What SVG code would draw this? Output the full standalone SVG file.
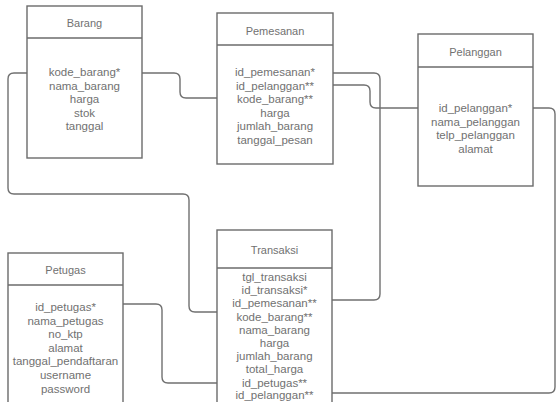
<svg xmlns="http://www.w3.org/2000/svg" width="557" height="402" viewBox="0 0 557 402">
<style>
.box{fill:#fff;stroke:#6b6b6b;stroke-width:1.4}
.sep{stroke:#6b6b6b;stroke-width:1.4}
.t{font-family:"Liberation Sans",Arial,sans-serif;font-size:11.5px;fill:#717171;text-anchor:middle}
.h{font-family:"Liberation Sans",Arial,sans-serif;font-size:11px;fill:#717171;text-anchor:middle}
.c{fill:none;stroke:#707070;stroke-width:1.4}
</style>
<rect width="557" height="402" fill="#fff"/>
<g id="connectors">
<path class="c" d="M27,73 H14 Q8,73 8,79 V188 Q8,194 14,194 H183 Q189,194 189,200 V306 Q189,312 195,312 H217"/>
<path class="c" d="M142,73 H174 Q180,73 180,79 V92 Q180,98 186,98 H217"/>
<path class="c" d="M333,73 H374 Q380,73 380,79 V294 Q380,300 374,300 H332"/>
<path class="c" d="M333,85 H364 Q370,85 370,91 V102 Q370,108 376,108 H418"/>
<path class="c" d="M533,108 H549 Q555,108 555,114 V387 Q555,393 549,393 H332"/>
<path class="c" d="M123,304 H156 Q162,304 162,310 V377 Q162,383 168,383 H217"/>
</g>
<g id="barang">
<rect class="box" x="27" y="6" width="115" height="152"/>
<line class="sep" x1="27" y1="38" x2="142" y2="38"/>
<text class="h" x="84.5" y="27">Barang</text>
<text class="t" x="84.5" y="76">kode_barang*</text>
<text class="t" x="84.5" y="89.6">nama_barang</text>
<text class="t" x="84.5" y="103.2">harga</text>
<text class="t" x="84.5" y="116.8">stok</text>
<text class="t" x="84.5" y="130.4">tanggal</text>
</g>
<g id="pemesanan">
<rect class="box" x="217" y="13" width="116" height="151"/>
<line class="sep" x1="217" y1="45" x2="333" y2="45"/>
<text class="h" x="275" y="35">Pemesanan</text>
<text class="t" x="275" y="76">id_pemesanan*</text>
<text class="t" x="275" y="89.6">id_pelanggan**</text>
<text class="t" x="275" y="103.2">kode_barang**</text>
<text class="t" x="275" y="116.8">harga</text>
<text class="t" x="275" y="130.4">jumlah_barang</text>
<text class="t" x="275" y="144">tanggal_pesan</text>
</g>
<g id="pelanggan">
<rect class="box" x="418" y="34" width="115" height="152"/>
<line class="sep" x1="418" y1="67" x2="533" y2="67"/>
<text class="h" x="475.5" y="56">Pelanggan</text>
<text class="t" x="475.5" y="112">id_pelanggan*</text>
<text class="t" x="475.5" y="125.6">nama_pelanggan</text>
<text class="t" x="475.5" y="139.2">telp_pelanggan</text>
<text class="t" x="475.5" y="152.8">alamat</text>
</g>
<g id="petugas">
<rect class="box" x="8" y="253" width="115" height="160"/>
<line class="sep" x1="8" y1="285" x2="123" y2="285"/>
<text class="h" x="65.5" y="274">Petugas</text>
<text class="t" x="65.5" y="311">id_petugas*</text>
<text class="t" x="65.5" y="324.6">nama_petugas</text>
<text class="t" x="65.5" y="338.2">no_ktp</text>
<text class="t" x="65.5" y="351.8">alamat</text>
<text class="t" x="65.5" y="365.4">tanggal_pendaftaran</text>
<text class="t" x="65.5" y="379">username</text>
<text class="t" x="65.5" y="392.6">password</text>
</g>
<g id="transaksi">
<rect class="box" x="217" y="230" width="115" height="190"/>
<line class="sep" x1="217" y1="268" x2="332" y2="268"/>
<text class="h" x="274.5" y="254">Transaksi</text>
<text class="t" x="274.5" y="281">tgl_transaksi</text>
<text class="t" x="274.5" y="294.2">id_transaksi*</text>
<text class="t" x="274.5" y="307.4">id_pemesanan**</text>
<text class="t" x="274.5" y="320.6">kode_barang**</text>
<text class="t" x="274.5" y="333.8">nama_barang</text>
<text class="t" x="274.5" y="347">harga</text>
<text class="t" x="274.5" y="360.2">jumlah_barang</text>
<text class="t" x="274.5" y="373.4">total_harga</text>
<text class="t" x="274.5" y="386.6">id_petugas**</text>
<text class="t" x="274.5" y="399.4">id_pelanggan**</text>
</g>
</svg>
